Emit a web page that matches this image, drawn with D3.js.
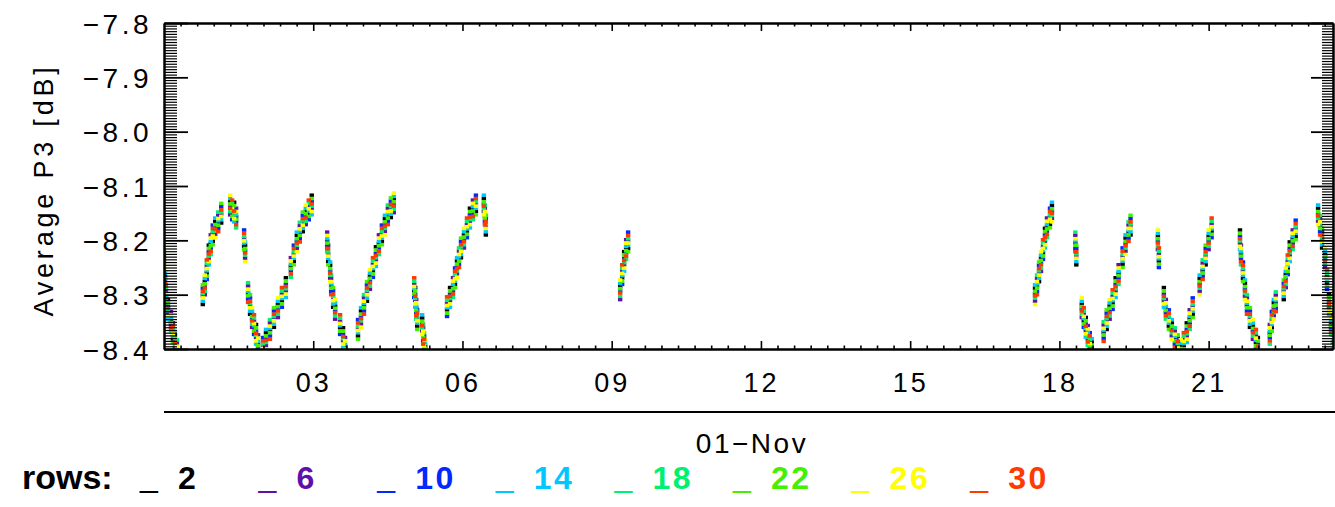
<!DOCTYPE html>
<html><head><meta charset="utf-8">
<script src="https://cdn.jsdelivr.net/npm/d3@7"></script>
<style>
body{margin:0;background:#fff;}
svg{display:block;}
text{font-family:"Liberation Sans",Arial,sans-serif;}
</style>
</head><body><svg id="c" width="1335" height="507"></svg>
<script>
// time in days from 01-Nov 00:00
const times = [
0.00,0.02,0.04,0.08,0.14,0.18,0.22,0.26,
0.78,0.82,0.86,0.90,0.94,0.98,1.03,1.09,
1.15,1.33,1.37,1.41,1.45,1.61,1.63,1.69,
1.73,1.77,1.81,1.85,1.89,1.99,2.05,2.13,
2.21,2.29,2.37,2.45,2.55,2.61,2.67,2.73,
2.79,2.85,2.91,2.97,3.28,3.30,3.34,3.36,
3.40,3.44,3.54,3.60,3.64,3.90,3.96,4.02,
4.08,4.14,4.20,4.26,4.32,4.38,4.44,4.50,
4.56,4.62,5.03,5.05,5.07,5.09,5.19,5.21,
5.23,5.25,5.69,5.75,5.81,5.85,5.89,5.93,
5.97,6.03,6.09,6.15,6.21,6.27,6.43,6.45,
6.47,9.17,9.21,9.25,9.29,9.33,17.51,17.55,
17.59,17.63,17.67,17.71,17.75,17.81,17.85,18.32,
18.34,18.45,18.49,18.53,18.57,18.61,18.65,18.89,
18.95,19.01,19.07,19.13,19.19,19.27,19.33,19.39,
19.43,19.98,20.00,20.10,20.14,20.20,20.26,20.32,
20.38,20.44,20.50,20.56,20.62,20.68,20.82,20.88,
20.94,21.00,21.06,21.63,21.65,21.69,21.73,21.77,
21.83,21.89,21.95,21.99,22.23,22.27,22.31,22.35,
22.51,22.55,22.59,22.63,22.69,22.75,23.20,23.24,
23.28,23.34,23.38,23.42,23.46,23.50
];

const row2 = [
-8.257,-8.266,-8.306,-8.309,-8.347,-8.382,-8.374,-8.403,
-8.318,-8.276,-8.260,-8.209,-8.206,-8.202,-8.165,-8.168,
-8.168,-8.129,-8.150,-8.130,-8.157,-8.211,-8.209,-8.298,
-8.336,-8.336,-8.361,-8.355,-8.390,-8.409,-8.370,-8.366,
-8.360,-8.318,-8.311,-8.269,-8.248,-8.239,-8.191,-8.187,
-8.184,-8.147,-8.150,-8.117,-8.201,-8.239,-8.246,-8.284,
-8.323,-8.321,-8.361,-8.361,-8.395,-8.376,-8.330,-8.320,
-8.312,-8.266,-8.256,-8.212,-8.206,-8.202,-8.160,-8.155,
-8.158,-8.125,-8.293,-8.287,-8.325,-8.358,-8.343,-8.375,
-8.406,-8.395,-8.328,-8.287,-8.285,-8.281,-8.238,-8.234,
-8.232,-8.190,-8.183,-8.141,-8.142,-8.147,-8.123,-8.155,
-8.190,-8.285,-8.269,-8.221,-8.215,-8.215,-8.288,-8.284,
-8.276,-8.233,-8.223,-8.178,-8.175,-8.171,-8.136,-8.205,
-8.245,-8.318,-8.348,-8.342,-8.373,-8.400,-8.387,-8.370,
-8.364,-8.321,-8.315,-8.269,-8.261,-8.244,-8.196,-8.186,
-8.190,-8.193,-8.238,-8.287,-8.325,-8.358,-8.352,-8.381,
-8.410,-8.395,-8.394,-8.352,-8.344,-8.336,-8.270,-8.256,
-8.245,-8.193,-8.183,-8.181,-8.225,-8.270,-8.279,-8.320,
-8.360,-8.358,-8.388,-8.379,-8.371,-8.361,-8.315,-8.315,
-8.309,-8.263,-8.251,-8.203,-8.197,-8.193,-8.141,-8.174,
-8.214,-8.226,-8.278,-8.300,-8.353,-8.404
];
const row6 = [
-8.241,-8.290,-8.294,-8.333,-8.331,-8.368,-8.398,-8.389,
-8.302,-8.300,-8.248,-8.233,-8.190,-8.188,-8.189,-8.154,
-8.152,-8.153,-8.138,-8.154,-8.141,-8.197,-8.233,-8.284,
-8.320,-8.360,-8.349,-8.379,-8.374,-8.395,-8.394,-8.352,
-8.344,-8.342,-8.299,-8.293,-8.232,-8.225,-8.215,-8.173,
-8.168,-8.171,-8.138,-8.141,-8.185,-8.225,-8.270,-8.270,
-8.307,-8.345,-8.349,-8.385,-8.379,-8.362,-8.354,-8.306,
-8.296,-8.290,-8.244,-8.236,-8.190,-8.188,-8.184,-8.141,
-8.142,-8.149,-8.281,-8.311,-8.309,-8.344,-8.367,-8.361,
-8.390,-8.419,-8.316,-8.311,-8.269,-8.267,-8.262,-8.220,
-8.216,-8.214,-8.171,-8.165,-8.126,-8.133,-8.147,-8.141,
-8.174,-8.309,-8.257,-8.245,-8.199,-8.201,-8.312,-8.270,
-8.260,-8.257,-8.211,-8.202,-8.159,-8.157,-8.160,-8.191,
-8.229,-8.342,-8.336,-8.366,-8.357,-8.386,-8.411,-8.356,
-8.348,-8.345,-8.303,-8.293,-8.245,-8.230,-8.220,-8.172,
-8.174,-8.217,-8.226,-8.311,-8.309,-8.344,-8.376,-8.367,
-8.394,-8.419,-8.382,-8.376,-8.328,-8.322,-8.294,-8.242,
-8.229,-8.217,-8.171,-8.205,-8.209,-8.256,-8.303,-8.306,
-8.344,-8.382,-8.376,-8.403,-8.355,-8.347,-8.339,-8.301,
-8.293,-8.287,-8.239,-8.227,-8.181,-8.179,-8.165,-8.160,
-8.198,-8.250,-8.266,-8.324,-8.337,-8.390
];
const row10 = [
-8.227,-8.274,-8.318,-8.321,-8.355,-8.352,-8.384,-8.413,
-8.288,-8.284,-8.272,-8.221,-8.214,-8.172,-8.175,-8.178,
-8.138,-8.137,-8.162,-8.142,-8.165,-8.181,-8.219,-8.308,
-8.306,-8.344,-8.373,-8.367,-8.398,-8.379,-8.380,-8.376,
-8.330,-8.326,-8.323,-8.281,-8.256,-8.209,-8.201,-8.197,
-8.154,-8.155,-8.162,-8.129,-8.209,-8.209,-8.256,-8.294,
-8.293,-8.329,-8.373,-8.373,-8.403,-8.346,-8.340,-8.330,
-8.282,-8.274,-8.268,-8.224,-8.214,-8.172,-8.170,-8.165,
-8.128,-8.133,-8.305,-8.299,-8.333,-8.328,-8.353,-8.385,
-8.376,-8.403,-8.340,-8.299,-8.293,-8.251,-8.248,-8.244,
-8.202,-8.198,-8.195,-8.153,-8.150,-8.117,-8.133,-8.165,
-8.160,-8.293,-8.281,-8.233,-8.223,-8.185,-8.298,-8.294,
-8.246,-8.241,-8.235,-8.190,-8.183,-8.141,-8.146,-8.215,
-8.215,-8.326,-8.360,-8.354,-8.381,-8.370,-8.397,-8.380,
-8.334,-8.329,-8.327,-8.281,-8.269,-8.214,-8.206,-8.196,
-8.160,-8.201,-8.250,-8.299,-8.333,-8.328,-8.362,-8.391,
-8.380,-8.403,-8.406,-8.364,-8.352,-8.306,-8.280,-8.266,
-8.215,-8.201,-8.195,-8.193,-8.233,-8.240,-8.289,-8.330,
-8.330,-8.366,-8.400,-8.391,-8.379,-8.331,-8.325,-8.325,
-8.279,-8.271,-8.263,-8.215,-8.205,-8.163,-8.151,-8.184,
-8.184,-8.234,-8.290,-8.312,-8.361,-8.374
];
const row14 = [
-8.251,-8.260,-8.302,-8.345,-8.343,-8.376,-8.368,-8.399,
-8.312,-8.270,-8.256,-8.245,-8.202,-8.196,-8.159,-8.164,
-8.162,-8.123,-8.146,-8.166,-8.153,-8.205,-8.203,-8.294,
-8.330,-8.330,-8.357,-8.391,-8.386,-8.403,-8.364,-8.362,
-8.354,-8.312,-8.307,-8.305,-8.244,-8.233,-8.185,-8.183,
-8.178,-8.141,-8.146,-8.153,-8.197,-8.233,-8.240,-8.280,
-8.317,-8.315,-8.357,-8.397,-8.391,-8.370,-8.324,-8.316,
-8.306,-8.260,-8.252,-8.248,-8.202,-8.196,-8.154,-8.151,
-8.152,-8.119,-8.289,-8.323,-8.321,-8.352,-8.337,-8.371,
-8.400,-8.389,-8.324,-8.323,-8.281,-8.275,-8.232,-8.230,
-8.226,-8.184,-8.179,-8.177,-8.138,-8.141,-8.117,-8.151,
-8.184,-8.279,-8.265,-8.257,-8.211,-8.209,-8.282,-8.280,
-8.270,-8.227,-8.219,-8.214,-8.171,-8.165,-8.130,-8.201,
-8.239,-8.312,-8.344,-8.378,-8.369,-8.394,-8.381,-8.366,
-8.358,-8.315,-8.311,-8.305,-8.257,-8.238,-8.190,-8.182,
-8.184,-8.187,-8.234,-8.323,-8.321,-8.352,-8.346,-8.377,
-8.404,-8.389,-8.390,-8.388,-8.340,-8.330,-8.264,-8.252,
-8.239,-8.187,-8.179,-8.217,-8.221,-8.264,-8.273,-8.316,
-8.354,-8.352,-8.384,-8.415,-8.367,-8.355,-8.309,-8.311,
-8.303,-8.257,-8.247,-8.239,-8.193,-8.187,-8.135,-8.170,
-8.208,-8.220,-8.274,-8.336,-8.349,-8.398
];
const row18 = [
-8.237,-8.284,-8.288,-8.329,-8.367,-8.364,-8.392,-8.383,
-8.298,-8.294,-8.242,-8.229,-8.226,-8.184,-8.183,-8.148,
-8.148,-8.147,-8.132,-8.150,-8.177,-8.193,-8.227,-8.278,
-8.316,-8.354,-8.343,-8.375,-8.410,-8.391,-8.388,-8.346,
-8.340,-8.336,-8.293,-8.289,-8.268,-8.221,-8.209,-8.167,
-8.164,-8.165,-8.132,-8.137,-8.221,-8.221,-8.264,-8.264,
-8.303,-8.339,-8.343,-8.381,-8.415,-8.358,-8.348,-8.300,
-8.292,-8.284,-8.238,-8.232,-8.226,-8.184,-8.178,-8.135,
-8.138,-8.143,-8.275,-8.307,-8.345,-8.340,-8.361,-8.355,
-8.386,-8.413,-8.310,-8.307,-8.305,-8.263,-8.256,-8.214,
-8.212,-8.208,-8.165,-8.161,-8.162,-8.129,-8.141,-8.135,
-8.170,-8.303,-8.251,-8.241,-8.235,-8.197,-8.306,-8.264,
-8.256,-8.251,-8.205,-8.198,-8.195,-8.153,-8.154,-8.185,
-8.225,-8.336,-8.330,-8.362,-8.393,-8.382,-8.405,-8.350,
-8.344,-8.339,-8.297,-8.289,-8.281,-8.226,-8.214,-8.166,
-8.170,-8.211,-8.220,-8.307,-8.345,-8.340,-8.370,-8.361,
-8.390,-8.413,-8.376,-8.372,-8.364,-8.318,-8.288,-8.236,
-8.225,-8.211,-8.165,-8.201,-8.245,-8.252,-8.297,-8.300,
-8.340,-8.376,-8.370,-8.399,-8.391,-8.343,-8.333,-8.295,
-8.289,-8.281,-8.233,-8.223,-8.217,-8.175,-8.159,-8.154,
-8.194,-8.244,-8.260,-8.320,-8.373,-8.386
];
const row22 = [
-8.221,-8.270,-8.312,-8.315,-8.351,-8.388,-8.380,-8.407,
-8.282,-8.280,-8.266,-8.215,-8.210,-8.208,-8.171,-8.172,
-8.132,-8.133,-8.156,-8.136,-8.161,-8.217,-8.215,-8.302,
-8.300,-8.340,-8.367,-8.361,-8.394,-8.415,-8.376,-8.370,
-8.324,-8.322,-8.317,-8.275,-8.252,-8.245,-8.197,-8.191,
-8.148,-8.151,-8.156,-8.123,-8.205,-8.245,-8.252,-8.288,
-8.287,-8.325,-8.367,-8.367,-8.399,-8.382,-8.336,-8.324,
-8.276,-8.270,-8.262,-8.218,-8.210,-8.208,-8.166,-8.159,
-8.122,-8.129,-8.299,-8.293,-8.329,-8.364,-8.349,-8.379,
-8.370,-8.399,-8.334,-8.293,-8.289,-8.287,-8.244,-8.238,
-8.196,-8.194,-8.189,-8.147,-8.146,-8.153,-8.129,-8.159,
-8.154,-8.289,-8.275,-8.227,-8.219,-8.221,-8.294,-8.288,
-8.240,-8.237,-8.229,-8.184,-8.179,-8.177,-8.142,-8.209,
-8.209,-8.322,-8.354,-8.348,-8.377,-8.406,-8.393,-8.374,
-8.328,-8.325,-8.321,-8.275,-8.265,-8.250,-8.202,-8.190,
-8.154,-8.197,-8.244,-8.293,-8.329,-8.364,-8.358,-8.385,
-8.374,-8.399,-8.400,-8.358,-8.348,-8.342,-8.276,-8.260,
-8.209,-8.197,-8.189,-8.187,-8.229,-8.276,-8.285,-8.324,
-8.324,-8.362,-8.394,-8.385,-8.375,-8.367,-8.321,-8.319,
-8.273,-8.267,-8.257,-8.209,-8.201,-8.199,-8.147,-8.178,
-8.178,-8.230,-8.284,-8.306,-8.357,-8.410
];
const row26 = [
-8.245,-8.254,-8.298,-8.339,-8.337,-8.372,-8.404,-8.395,
-8.306,-8.264,-8.252,-8.239,-8.196,-8.192,-8.195,-8.160,
-8.156,-8.117,-8.142,-8.160,-8.147,-8.201,-8.239,-8.290,
-8.324,-8.324,-8.353,-8.385,-8.380,-8.399,-8.400,-8.358,
-8.348,-8.306,-8.303,-8.299,-8.238,-8.229,-8.221,-8.179,
-8.172,-8.135,-8.142,-8.147,-8.191,-8.229,-8.276,-8.276,
-8.311,-8.309,-8.353,-8.391,-8.385,-8.366,-8.360,-8.312,
-8.300,-8.254,-8.248,-8.242,-8.196,-8.192,-8.190,-8.147,
-8.146,-8.113,-8.285,-8.317,-8.315,-8.348,-8.373,-8.367,
-8.394,-8.383,-8.320,-8.317,-8.275,-8.271,-8.268,-8.226,
-8.220,-8.178,-8.175,-8.171,-8.132,-8.137,-8.153,-8.147,
-8.178,-8.273,-8.261,-8.251,-8.205,-8.205,-8.318,-8.276,
-8.264,-8.221,-8.215,-8.208,-8.165,-8.161,-8.166,-8.197,
-8.233,-8.306,-8.340,-8.372,-8.363,-8.390,-8.417,-8.362,
-8.352,-8.309,-8.307,-8.299,-8.251,-8.234,-8.226,-8.178,
-8.178,-8.181,-8.230,-8.317,-8.315,-8.348,-8.382,-8.373,
-8.398,-8.383,-8.386,-8.382,-8.334,-8.326,-8.300,-8.248,
-8.233,-8.181,-8.175,-8.211,-8.215,-8.260,-8.309,-8.312,
-8.348,-8.346,-8.380,-8.409,-8.361,-8.351,-8.345,-8.307,
-8.297,-8.251,-8.243,-8.233,-8.187,-8.183,-8.171,-8.166,
-8.202,-8.214,-8.270,-8.330,-8.343,-8.394
];
const row30 = [
-8.233,-8.278,-8.282,-8.325,-8.361,-8.358,-8.388,-8.419,
-8.294,-8.288,-8.236,-8.225,-8.220,-8.178,-8.179,-8.184,
-8.144,-8.141,-8.126,-8.146,-8.171,-8.187,-8.223,-8.314,
-8.312,-8.348,-8.337,-8.371,-8.404,-8.385,-8.384,-8.382,
-8.336,-8.330,-8.287,-8.285,-8.262,-8.215,-8.205,-8.203,
-8.160,-8.159,-8.126,-8.133,-8.215,-8.215,-8.260,-8.300,
-8.299,-8.333,-8.337,-8.377,-8.409,-8.352,-8.344,-8.336,
-8.288,-8.278,-8.232,-8.228,-8.220,-8.178,-8.174,-8.171,
-8.134,-8.137,-8.269,-8.303,-8.339,-8.334,-8.357,-8.391,
-8.382,-8.407,-8.304,-8.303,-8.299,-8.257,-8.252,-8.250,
-8.208,-8.202,-8.159,-8.157,-8.156,-8.123,-8.137,-8.171,
-8.166,-8.297,-8.245,-8.237,-8.229,-8.191,-8.302,-8.300,
-8.252,-8.245,-8.199,-8.194,-8.189,-8.147,-8.150,-8.221,
-8.221,-8.330,-8.324,-8.358,-8.387,-8.376,-8.401,-8.386,
-8.340,-8.333,-8.291,-8.285,-8.275,-8.220,-8.210,-8.202,
-8.166,-8.205,-8.214,-8.303,-8.339,-8.334,-8.366,-8.397,
-8.386,-8.407,-8.370,-8.368,-8.358,-8.312,-8.284,-8.272,
-8.221,-8.205,-8.159,-8.197,-8.239,-8.246,-8.293,-8.336,
-8.336,-8.370,-8.364,-8.395,-8.385,-8.337,-8.329,-8.331,
-8.285,-8.275,-8.227,-8.219,-8.211,-8.169,-8.155,-8.190,
-8.190,-8.238,-8.254,-8.316,-8.367,-8.407
];

const seriesNames = ["2","6","10","14","18","22","26","30"];
const seriesValues = [row2,row6,row10,row14,row18,row22,row26,row30];
const seriesColors = ["#000000","#6010a8","#0028ff","#00c8ff","#00f070","#44f000","#ffff00","#ff3a00"];

const yTickValues = [-8.4,-8.3,-8.2,-8.1,-8.0,-7.9,-7.8];
const yTickLabels = ["\u22128.4","\u22128.3","\u22128.2","\u22128.1","\u22128.0","\u22127.9","\u22127.8"];
const xTickValues = [3,6,9,12,15,18,21];
const xTickLabels = ["03","06","09","12","15","18","21"];
const yTitle = "Average  P3  [dB]";
const dateLabel = "01\u2212Nov";
const legendTitle = "rows:";

const svg = d3.select("#c");
svg.append("rect").attr("width",1335).attr("height",507).attr("fill","#fff");

const L = 164, R = 1333, T = 23, B = 349;
const x = d3.scaleLinear().domain([0, 23.5]).range([L, R]);
const y = d3.scaleLinear().domain([-8.4, -7.8]).range([B, T]);

svg.append("clipPath").attr("id","pc").append("rect")
  .attr("x",L).attr("y",T).attr("width",R-L).attr("height",B-T);

// points
const pts = svg.append("g").attr("clip-path","url(#pc)");
const MW = 4.4, MH = 3.6;
seriesValues.forEach((vals, k) => {
  pts.append("g").selectAll("rect").data(vals.map((v,i)=>({t:times[i], v})))
    .join("rect")
    .attr("x", d => x(d.t) - MW/2)
    .attr("y", d => y(d.v) - MH/2)
    .attr("width", MW).attr("height", MH)
    .attr("fill", seriesColors[k]);
});

const yMinor = d3.range(0, 121).map(i => -8.4 + i*0.005).filter(v => Math.abs(Math.round(v*10) - v*10) > 1e-6);
const xMinor = d3.range(0, 71).map(i => i/3).filter(v => v <= 23.5 && Math.abs(v/3 - Math.round(v/3)) > 1e-6);

function styleAxis(g, w){
  g.selectAll("path.domain").attr("stroke","#000").attr("stroke-width",2);
  g.selectAll(".tick line").attr("stroke","#000").attr("stroke-width",w || 1.6);
  g.selectAll("text").attr("fill","#000").attr("font-family","'Liberation Sans',Arial,sans-serif");
}

// left axis
const gl = svg.append("g").attr("transform",`translate(${L},0)`);
gl.call(d3.axisLeft(y).tickValues(yMinor).tickSize(-13).tickSizeOuter(0).tickFormat(""));
gl.call(styleAxis, 1.2);
const gl2 = svg.append("g").attr("transform",`translate(${L},0)`);
gl2.call(d3.axisLeft(y).tickValues(yTickValues).tickSize(-24).tickSizeOuter(0).tickPadding(12)
  .tickFormat((d,i)=>yTickLabels[i]));
gl2.call(styleAxis, 1.8);
gl2.selectAll("text").attr("font-size",28).attr("letter-spacing","3.5px").attr("dy","0.36em");

// right axis
const gr = svg.append("g").attr("transform",`translate(${R},0)`);
gr.call(d3.axisRight(y).tickValues(yMinor).tickSize(-11).tickSizeOuter(0).tickFormat(""));
gr.call(styleAxis, 1.2);
const gr2 = svg.append("g").attr("transform",`translate(${R},0)`);
gr2.call(d3.axisRight(y).tickValues(yTickValues).tickSize(-22).tickSizeOuter(0).tickFormat(""));
gr2.call(styleAxis, 1.8);

// bottom axis
const gb = svg.append("g").attr("transform",`translate(0,${B})`);
gb.call(d3.axisBottom(x).tickValues(xMinor).tickSize(-3.5).tickSizeOuter(0).tickFormat(""));
gb.call(styleAxis);
const gb2 = svg.append("g").attr("transform",`translate(0,${B})`);
gb2.call(d3.axisBottom(x).tickValues(xTickValues).tickSize(-8).tickSizeOuter(0).tickPadding(24)
  .tickFormat((d,i)=>xTickLabels[i]));
gb2.call(styleAxis);
gb2.selectAll("text").attr("font-size",27).attr("letter-spacing","3px");

// top axis
const gt = svg.append("g").attr("transform",`translate(0,${T})`);
gt.call(d3.axisTop(x).tickValues(xMinor).tickSize(-3.5).tickSizeOuter(0).tickFormat(""));
gt.call(styleAxis);
const gt2 = svg.append("g").attr("transform",`translate(0,${T})`);
gt2.call(d3.axisTop(x).tickValues(xTickValues).tickSize(-8).tickSizeOuter(0).tickFormat(""));
gt2.call(styleAxis);

// y title
svg.append("text").attr("transform","translate(53,190) rotate(-90)")
  .attr("text-anchor","middle").attr("font-size",27).attr("letter-spacing","3.8px")
  .attr("fill","#000").text(yTitle);

// second time line
svg.append("line").attr("x1",L).attr("x2",1335).attr("y1",412).attr("y2",412)
  .attr("stroke","#000").attr("stroke-width",2);
svg.append("text").attr("x",752).attr("y",453).attr("text-anchor","middle")
  .attr("font-size",28).attr("letter-spacing","2.5px").attr("fill","#000").text(dateLabel);

// legend
svg.append("text").attr("x",22).attr("y",489).attr("font-size",34).attr("font-weight","bold")
  .attr("fill","#000").text(legendTitle);
const lg = svg.append("g");
seriesNames.forEach((n,k) => {
  const x0 = 140 + k*118.6;
  lg.append("text").attr("x",x0).attr("y",487).attr("font-size",32).attr("fill",seriesColors[k]).text("_");
  lg.append("text").attr("x",x0+38).attr("y",489).attr("font-size",32).attr("font-weight","bold")
    .attr("letter-spacing","2.5px").attr("fill",seriesColors[k]).text(n);
});
</script>
</body></html>
